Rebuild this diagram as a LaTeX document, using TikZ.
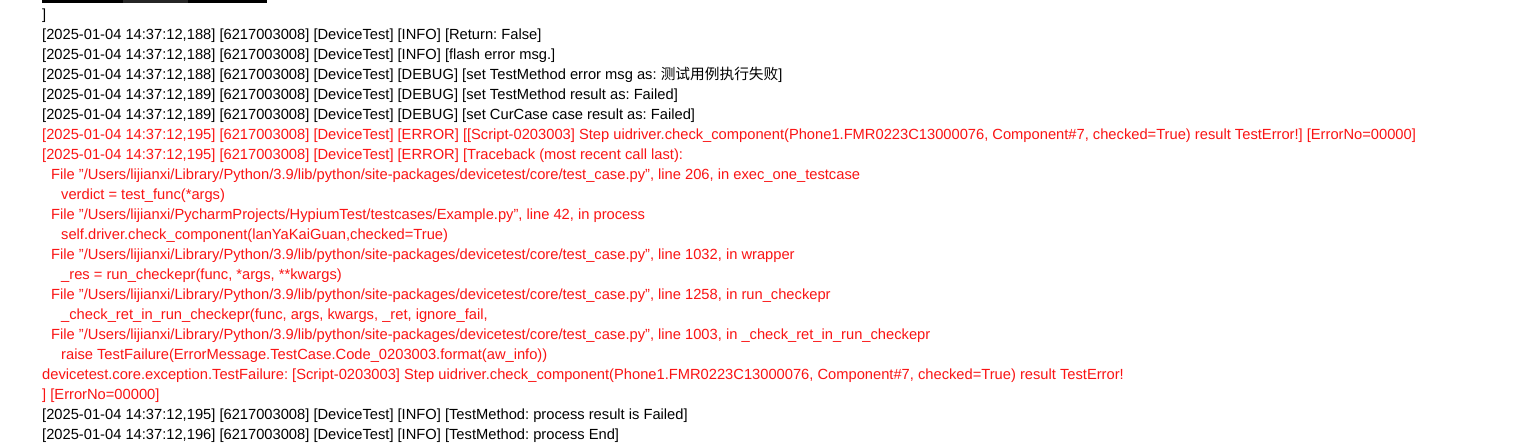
\documentclass[tikz,border=0pt]{standalone}
\usepackage{fontspec}
\setmainfont{Liberation Sans}[Ligatures=ResetAll]
\newfontfamily\cjk{Noto Sans CJK SC}
\usepackage{tikz}
\definecolor{logred}{RGB}{250,20,20}
\frenchspacing

\begin{document}
\begin{tikzpicture}[x=1pt,y=-1pt,
          logline/.style={anchor=base west,inner sep=0pt,font=\fontsize{14.7}{20}\selectfont},
          errline/.style={logline,text=logred}]
          \useasboundingbox[fill=white] (0,0) rectangle (1515,444);
          \fill[black] (42,0) rectangle (267,3.4);
          \fill[black!85] (123,0) rectangle (188,3.4);
          \node[logline] (l0) at (42,19.5) {]};
          \node[logline] (l1) at (42,39.5) {[2025-01-04 14:37:12,188] [6217003008] [DeviceTest] [INFO] [Return: False]};
          \node[logline] (l2) at (42,59.5) {[2025-01-04 14:37:12,188] [6217003008] [DeviceTest] [INFO] [flash error msg.]};
          \node[logline] (l3) at (42,79.5) {[2025-01-04 14:37:12,188] [6217003008] [DeviceTest] [DEBUG] [set TestMethod error msg as: {\cjk 测试用例执行失败}]};
          \node[logline] (l4) at (42,99.5) {[2025-01-04 14:37:12,189] [6217003008] [DeviceTest] [DEBUG] [set TestMethod result as: Failed]};
          \node[logline] (l5) at (42,119.5) {[2025-01-04 14:37:12,189] [6217003008] [DeviceTest] [DEBUG] [set CurCase case result as: Failed]};
          \node[errline] (l6) at (42,139.5) {[2025-01-04 14:37:12,195] [6217003008] [DeviceTest] [ERROR] [[Script-0203003] Step uidriver.check\_component(Phone1.FMR0223C13000076, Component\#7, checked=True) result TestError!] [ErrorNo=00000]};
          \node[errline] (l7) at (42,159.5) {[2025-01-04 14:37:12,195] [6217003008] [DeviceTest] [ERROR] [Traceback (most recent call last):};
          \node[errline] (l8) at (51,179.5) {File "/Users/lijianxi/Library/Python/3.9/lib/python/site-packages/devicetest/core/test\_case.py", line 206, in exec\_one\_testcase};
          \node[errline] (l9) at (61,199.5) {verdict = test\_func(*args)};
          \node[errline] (l10) at (51,219.5) {File "/Users/lijianxi/PycharmProjects/HypiumTest/testcases/Example.py", line 42, in process};
          \node[errline] (l11) at (61,239.5) {self.driver.check\_component(lanYaKaiGuan,checked=True)};
          \node[errline] (l12) at (51,259.5) {File "/Users/lijianxi/Library/Python/3.9/lib/python/site-packages/devicetest/core/test\_case.py", line 1032, in wrapper};
          \node[errline] (l13) at (61,279.5) {\_res = run\_checkepr(func, *args, **kwargs)};
          \node[errline] (l14) at (51,299.5) {File "/Users/lijianxi/Library/Python/3.9/lib/python/site-packages/devicetest/core/test\_case.py", line 1258, in run\_checkepr};
          \node[errline] (l15) at (61,319.5) {\_check\_ret\_in\_run\_checkepr(func, args, kwargs, \_ret, ignore\_fail,};
          \node[errline] (l16) at (51,339.5) {File "/Users/lijianxi/Library/Python/3.9/lib/python/site-packages/devicetest/core/test\_case.py", line 1003, in \_check\_ret\_in\_run\_checkepr};
          \node[errline] (l17) at (61,359.5) {raise TestFailure(ErrorMessage.TestCase.Code\_0203003.format(aw\_info))};
          \node[errline] (l18) at (42,379.5) {devicetest.core.exception.TestFailure: [Script-0203003] Step uidriver.check\_component(Phone1.FMR0223C13000076, Component\#7, checked=True) result TestError!};
          \node[errline] (l19) at (42,399.5) {] [ErrorNo=00000]};
          \node[logline] (l20) at (42,419.5) {[2025-01-04 14:37:12,195] [6217003008] [DeviceTest] [INFO] [TestMethod: process result is Failed]};
          \node[logline] (l21) at (42,439.5) {[2025-01-04 14:37:12,196] [6217003008] [DeviceTest] [INFO] [TestMethod: process End]};
        \end{tikzpicture}
\end{document}
